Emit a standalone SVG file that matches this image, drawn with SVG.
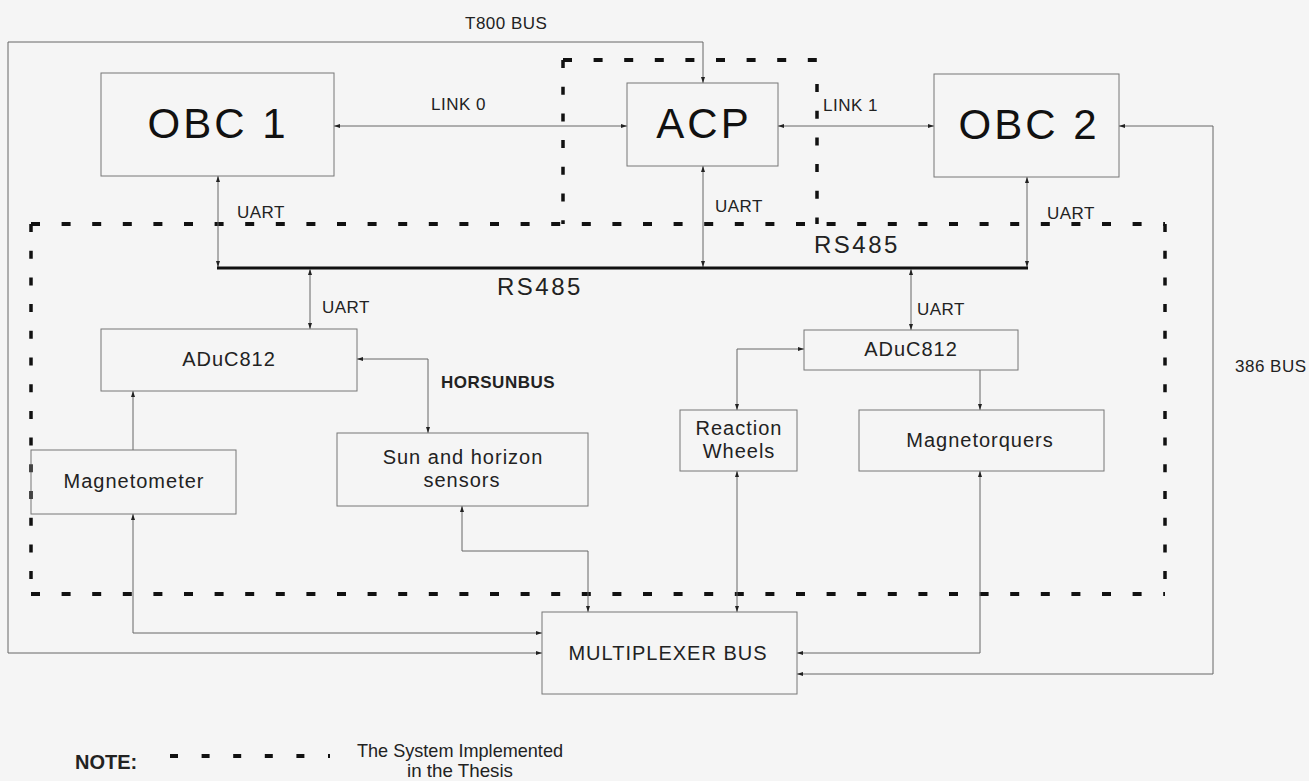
<svg xmlns="http://www.w3.org/2000/svg" width="1309" height="781" viewBox="0 0 1309 781">
<style>
.bg{fill:#f5f5f5}
.box{fill:none;stroke:#777;stroke-width:1}
.ln{fill:none;stroke:#666;stroke-width:1}
.bus{fill:none;stroke:#111;stroke-width:3}
.dh{fill:none;stroke:#111;stroke-width:4;stroke-dasharray:9 21.6}
.dv{fill:none;stroke:#111;stroke-width:3.5;stroke-dasharray:8 18.7}
text{font-family:"Liberation Sans",Arial,sans-serif;fill:#222}
.big{font-size:42px;letter-spacing:3px;text-anchor:middle;fill:#111}
.lbl{font-size:17px;letter-spacing:0.5px}
.nd{font-size:20px;letter-spacing:1px;text-anchor:middle}
.rs{font-size:24px;letter-spacing:2.5px}
.bold{font-weight:bold}
.note{font-size:18.5px;text-anchor:middle}
</style>
<defs>
<marker id="a" viewBox="0 0 6 4" refX="6" refY="2" markerWidth="6" markerHeight="4" orient="auto-start-reverse" markerUnits="userSpaceOnUse"><path d="M0,0 L6,2 L0,4 z" fill="#222"/></marker>
</defs>
<rect class="bg" x="0" y="0" width="1309" height="781"/>

<g id="implemented-boundary">
<line class="dh" x1="31" y1="224" x2="1165" y2="224"/>
<line class="dh" x1="31" y1="594" x2="1165" y2="594"/>
<line class="dv" x1="31" y1="224" x2="31" y2="594"/>
<line class="dv" x1="1165" y1="224" x2="1165" y2="594"/>
<line class="dh" x1="563" y1="60" x2="817" y2="60"/>
<line class="dv" x1="563" y1="60" x2="563" y2="224"/>
<line class="dv" x1="817" y1="84" x2="817" y2="224"/>
</g>

<g id="connectors">
<path class="ln" d="M703,83 V42 H8 V653 H542" marker-start="url(#a)" marker-end="url(#a)"/>
<path class="ln" d="M334,126 H627" marker-start="url(#a)" marker-end="url(#a)"/>
<path class="ln" d="M778,126 H934" marker-start="url(#a)" marker-end="url(#a)"/>
<path class="ln" d="M1119,126 H1213 V674 H797" marker-start="url(#a)" marker-end="url(#a)"/>
<path class="ln" d="M218,176 V267" marker-start="url(#a)" marker-end="url(#a)"/>
<path class="ln" d="M703,166 V267" marker-start="url(#a)" marker-end="url(#a)"/>
<path class="ln" d="M1027,177 V267" marker-start="url(#a)" marker-end="url(#a)"/>
<path class="bus" d="M217,268 H1028"/>
<path class="ln" d="M310,269 V329" marker-start="url(#a)" marker-end="url(#a)"/>
<path class="ln" d="M911,269 V330" marker-start="url(#a)" marker-end="url(#a)"/>
<path class="ln" d="M357,359 H428 V433" marker-start="url(#a)" marker-end="url(#a)"/>
<path class="ln" d="M133,450 V391" marker-end="url(#a)"/>
<path class="ln" d="M133,514 V633 H542" marker-start="url(#a)" marker-end="url(#a)"/>
<path class="ln" d="M462,506 V551 H588 V612" marker-start="url(#a)" marker-end="url(#a)"/>
<path class="ln" d="M804,349 H737 V410" marker-start="url(#a)" marker-end="url(#a)"/>
<path class="ln" d="M980,370 V410" marker-end="url(#a)"/>
<path class="ln" d="M737,471 V612" marker-start="url(#a)" marker-end="url(#a)"/>
<path class="ln" d="M980,471 V653 H797" marker-start="url(#a)" marker-end="url(#a)"/>
</g>

<g id="connector-labels">
<text class="lbl" x="465" y="29">T800 BUS</text>
<text class="lbl" x="431" y="110">LINK 0</text>
<text class="lbl" x="823" y="111">LINK 1</text>
<text class="lbl" x="1235" y="372">386 BUS</text>
<text class="lbl" x="237" y="218">UART</text>
<text class="lbl" x="715" y="212">UART</text>
<text class="lbl" x="1047" y="219">UART</text>
<text class="lbl" x="322" y="313">UART</text>
<text class="lbl" x="917" y="315">UART</text>
<text class="rs" x="814" y="253">RS485</text>
<text class="rs" x="497" y="295">RS485</text>
<text class="lbl bold" x="441" y="388">HORSUNBUS</text>
</g>

<g id="obc1"><rect class="box" x="101" y="73" width="233" height="103"/><text class="big" x="218" y="138">OBC 1</text></g>
<g id="acp"><rect class="box" x="627" y="83" width="151" height="83"/><text class="big" x="704" y="138">ACP</text></g>
<g id="obc2"><rect class="box" x="934" y="74" width="185" height="103"/><text class="big" x="1029" y="139">OBC 2</text></g>
<g id="aduc-left"><rect class="box" x="101" y="329" width="256" height="62"/><text class="nd" x="229" y="366">ADuC812</text></g>
<g id="aduc-right"><rect class="box" x="804" y="330" width="214" height="40"/><text class="nd" x="911" y="356">ADuC812</text></g>
<g id="magnetometer"><rect class="box" x="31" y="450" width="205" height="64"/><text class="nd" x="134" y="488">Magnetometer</text></g>
<g id="sun-horizon"><rect class="box" x="337" y="433" width="251" height="73"/><text class="nd" x="463" y="464">Sun and horizon</text><text class="nd" x="462" y="487">sensors</text></g>
<g id="reaction-wheels"><rect class="box" x="680" y="410" width="117" height="61"/><text class="nd" x="739" y="435">Reaction</text><text class="nd" x="739" y="458">Wheels</text></g>
<g id="magnetorquers"><rect class="box" x="859" y="410" width="245" height="61"/><text class="nd" x="980" y="447">Magnetorquers</text></g>
<g id="multiplexer"><rect class="box" x="542" y="612" width="255" height="82"/><text class="nd" x="668" y="660">MULTIPLEXER BUS</text></g>

<g id="legend">
<text class="bold" x="75" y="769" font-size="20">NOTE:</text>
<line class="dh" x1="170" y1="756" x2="330" y2="756" style="stroke-dasharray:8 23.6"/>
<text class="note" x="460" y="757" textLength="206" lengthAdjust="spacingAndGlyphs">The System Implemented</text>
<text class="note" x="460" y="777" textLength="106" lengthAdjust="spacingAndGlyphs">in the Thesis</text>
</g>
</svg>
